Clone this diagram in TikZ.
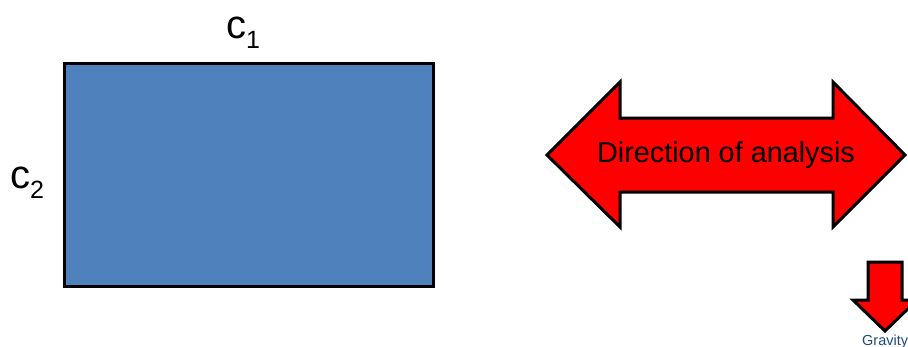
\documentclass[tikz,border=0pt]{standalone}
\usepackage{fontspec}
\setmainfont{Liberation Sans}
\definecolor{boxblue}{RGB}{79,129,189}
\definecolor{gravblue}{RGB}{31,73,125}
\newcommand{\lowsub}[1]{\raisebox{-10pt}{\fontsize{25}{27}\selectfont #1}}
\begin{document}
\begin{tikzpicture}[x=1pt,y=-1pt,
  outline/.style={draw=black,line width=3pt,line join=miter},
  lbl/.style={inner sep=0pt,font=\fontsize{40}{42}\selectfont}]
\useasboundingbox (0,0) rectangle (908,346);
% rectangle
\node[outline,fill=boxblue,rectangle,minimum width=369pt,minimum height=223pt,inner sep=0pt,anchor=north west] (box) at (63,62) {};
\node[lbl,anchor=base west] (c1) at (226,38) {c\lowsub{1}};
\node[lbl,anchor=base west] (c2) at (10,188) {c\lowsub{2}};
% double arrow
\draw[outline,fill=red] (547,155) -- (620,82) -- (620,118) -- (833,118) -- (833,82)
  -- (905,155) -- (833,227) -- (833,192) -- (620,192) -- (620,227) -- cycle;
\node[inner sep=0pt,font=\fontsize{28.8}{30}\selectfont] (dir) at (726,155) {Direction of analysis};
% gravity arrow
\draw[outline,fill=red] (868,262) -- (902,262) -- (902,300) -- (917,300) -- (885,331)
  -- (853,300) -- (868,300) -- cycle;
\node[inner sep=0pt,anchor=base west,text=gravblue,font=\fontsize{14.5}{16}\selectfont] (grav) at (862,345) {Gravity};
\end{tikzpicture}
\end{document}
